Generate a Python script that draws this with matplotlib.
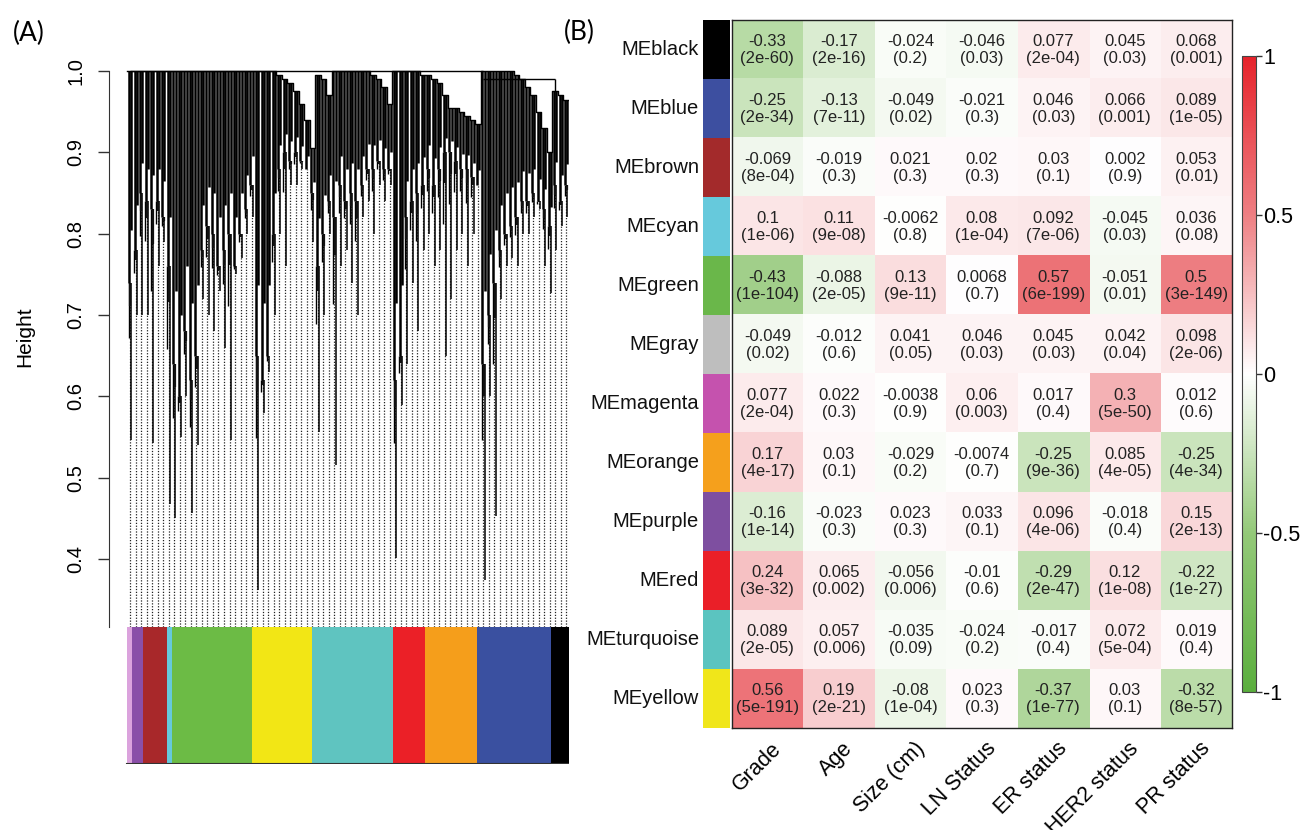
import matplotlib
matplotlib.use("Agg")
import matplotlib.pyplot as plt
import numpy as np
from matplotlib.colors import LinearSegmentedColormap

plt.rcParams['font.family'] = ['Liberation Sans', 'DejaVu Sans']

# ---- panel A: dendrogram, one entry per guide line ----
# top = merge height at the top, canopy = lower edge of the dense black part, tip = lowest branch
dendro_top = [1.0, 1.0, 1.0, 1.0, 1.0, 1.0, 1.0, 1.0,
              1.0, 1.0, 1.0, 1.0, 1.0, 1.0, 1.0, 1.0, 1.0, 1.0, 1.0, 1.0, 1.0, 1.0, 1.0,
              1.0, 1.0, 1.0, 1.0, 0.995, 0.99, 0.985, 0.975, 0.96, 0.94, 0.905,
              0.995, 0.99, 0.97, 1.0, 1.0, 1.0, 1.0, 1.0, 1.0, 1.0, 0.995, 0.99, 0.98, 0.96,
              1.0, 1.0, 1.0, 1.0, 1.0, 0.995,
              0.995, 0.99, 0.985, 0.97, 0.955, 0.955, 0.95, 0.945, 0.94, 0.935,
              1.0, 1.0, 1.0, 1.0, 1.0, 1.0, 0.995, 0.99, 0.98, 0.97, 0.95, 0.93, 0.90,
              0.975, 0.97, 0.965]
dendro_canopy = [0.74, 0.78, 0.85, 0.84, 0.83, 0.84, 0.82, 0.76,
                 0.64, 0.60, 0.68, 0.62, 0.65, 0.78, 0.81, 0.80, 0.76, 0.78, 0.80, 0.76, 0.80, 0.83, 0.86,
                 0.65, 0.62, 0.65, 0.80, 0.88, 0.90, 0.89, 0.90, 0.89, 0.88, 0.85,
                 0.76, 0.80, 0.84, 0.82, 0.86, 0.84, 0.85, 0.84, 0.86, 0.88, 0.88, 0.89, 0.88, 0.88,
                 0.62, 0.65, 0.82, 0.84, 0.85, 0.86,
                 0.88, 0.86, 0.88, 0.90, 0.90, 0.89, 0.88, 0.88, 0.87, 0.86,
                 0.64, 0.70, 0.74, 0.78, 0.80, 0.81, 0.82, 0.84, 0.84, 0.85, 0.84, 0.83, 0.81,
                 0.86, 0.84, 0.86]
dendro_tip = [0.547, 0.70, 0.70, 0.70, 0.543, 0.76, 0.79, 0.468,
              0.45, 0.55, 0.60, 0.457, 0.54, 0.72, 0.70, 0.68, 0.73, 0.66, 0.547, 0.75, 0.77, 0.80, 0.82,
              0.362, 0.58, 0.63, 0.70, 0.80, 0.76, 0.86, 0.86, 0.88, 0.88, 0.79,
              0.556, 0.70, 0.80, 0.516, 0.76, 0.78, 0.74, 0.70, 0.82, 0.84, 0.80, 0.86, 0.84, 0.86,
              0.401, 0.59, 0.64, 0.74, 0.68, 0.78,
              0.80, 0.76, 0.78, 0.65, 0.72, 0.78, 0.80, 0.76, 0.80, 0.86,
              0.374, 0.60, 0.453, 0.72, 0.76, 0.77, 0.76, 0.80, 0.80, 0.82, 0.83, 0.76, 0.727,
              0.78, 0.81, 0.82]
merge_y = [1.0, 0.99]
merge_from = [0, 64]
merge_to = [64, 77]

module_names = ['magenta', 'purple', 'brown', 'cyan', 'green', 'yellow', 'turquoise',
                'red', 'orange', 'blue', 'black']
module_share = [1.0, 2.6, 5.4, 1.1, 18.2, 13.4, 18.4, 7.4, 11.6, 16.8, 4.1]   # % of width
module_bar_col = ['#dba3dd', '#8a4fa8', '#a8282a', '#66c9dc', '#6cbb45', '#f2e615', '#5fc4c0',
                  '#eb2027', '#f59e1b', '#3a50a0', '#000000']

# ---- panel B: module-trait correlations ----
me_rows = ['MEblack', 'MEblue', 'MEbrown', 'MEcyan', 'MEgreen', 'MEgray', 'MEmagenta',
           'MEorange', 'MEpurple', 'MEred', 'MEturquoise', 'MEyellow']
me_cols = ['#000000', '#3d4fa0', '#a32a2b', '#66c9dc', '#6ab74a', '#bebebe', '#c552ae',
           '#f5a01c', '#7e4fa0', '#ea1f28', '#5bc4c0', '#f0e61a']
traits = ['Grade', 'Age', 'Size (cm)', 'LN Status', 'ER status', 'HER2 status', 'PR status']

corr = [[-0.33, -0.17, -0.024, -0.046, 0.077, 0.045, 0.068],
        [-0.25, -0.13, -0.049, -0.021, 0.046, 0.066, 0.089],
        [-0.069, -0.019, 0.021, 0.02, 0.03, 0.002, 0.053],
        [0.1, 0.11, -0.0062, 0.08, 0.092, -0.045, 0.036],
        [-0.43, -0.088, 0.13, 0.0068, 0.57, -0.051, 0.5],
        [-0.049, -0.012, 0.041, 0.046, 0.045, 0.042, 0.098],
        [0.077, 0.022, -0.0038, 0.06, 0.017, 0.3, 0.012],
        [0.17, 0.03, -0.029, -0.0074, -0.25, 0.085, -0.25],
        [-0.16, -0.023, 0.023, 0.033, 0.096, -0.018, 0.15],
        [0.24, 0.065, -0.056, -0.01, -0.29, 0.12, -0.22],
        [0.089, 0.057, -0.035, -0.024, -0.017, 0.072, 0.019],
        [0.56, 0.19, -0.08, 0.023, -0.37, 0.03, -0.32]]
pval = [['2e-60', '2e-16', '0.2', '0.03', '2e-04', '0.03', '0.001'],
        ['2e-34', '7e-11', '0.02', '0.3', '0.03', '0.001', '1e-05'],
        ['8e-04', '0.3', '0.3', '0.3', '0.1', '0.9', '0.01'],
        ['1e-06', '9e-08', '0.8', '1e-04', '7e-06', '0.03', '0.08'],
        ['1e-104', '2e-05', '9e-11', '0.7', '6e-199', '0.01', '3e-149'],
        ['0.02', '0.6', '0.05', '0.03', '0.03', '0.04', '2e-06'],
        ['2e-04', '0.3', '0.9', '0.003', '0.4', '5e-50', '0.6'],
        ['4e-17', '0.1', '0.2', '0.7', '9e-36', '4e-05', '4e-34'],
        ['1e-14', '0.3', '0.3', '0.1', '4e-06', '0.4', '2e-13'],
        ['3e-32', '0.002', '0.006', '0.6', '2e-47', '1e-08', '1e-27'],
        ['2e-05', '0.006', '0.09', '0.2', '0.4', '5e-04', '0.4'],
        ['5e-191', '2e-21', '1e-04', '0.3', '1e-77', '0.1', '8e-57']]

W, H = 1302, 830
fig = plt.figure(figsize=(W / 100, H / 100), dpi=100)

def box(x0, y0, x1, y1):
    # pixel box (top-left origin) -> figure fraction rect
    return [x0 / W, 1 - y1 / H, (x1 - x0) / W, (y1 - y0) / H]

# ---------------- panel A ----------------
ymin = 0.317
n = len(dendro_top)
xl = -(127.4 - 109.3) / (441.6 / n)
ax = fig.add_axes(box(109.3, 69.4, 569, 626.7))
ax.set_xlim(xl, n)
ax.set_ylim(ymin, 1.002)
xs = np.arange(n) + 0.5
top = np.array(dendro_top)
can = np.array(dendro_canopy)
tip = np.array(dendro_tip)
ax.vlines(xs, ymin, can, colors='#222222', linestyles=(0, (1, 1.3)), lw=0.9)
# long branches and shorter streaks hanging below the dense part
ax.vlines(xs + 0.2, tip, can, colors='black', lw=1.1)
ax.vlines(xs - 0.25, can - 0.35 * (can - tip), can, colors='black', lw=1.0)
ax.vlines(xs + 0.05, can - 0.15 * (can - tip), can, colors='#111111', lw=1.6)
# dense mass, drawn as two close strokes per leaf group
ax.vlines(xs - 0.2, can, top, colors='black', lw=1.8)
ax.vlines(xs + 0.22, can + 0.25 * (top - can), top, colors='black', lw=1.8)
ax.step(np.r_[0, xs, n], np.r_[top[0], top, top[-1]], where='mid', color='black', lw=1.0)
for y, a, b in zip(merge_y, merge_from, merge_to):
    ax.hlines(y, a + 0.5, b + 0.5, colors='black', lw=1.0)
ax.vlines(merge_to[-1] + 0.5, top[merge_to[-1]], merge_y[-1], colors='black', lw=1.0)
for s in ['top', 'right', 'bottom']:
    ax.spines[s].set_visible(False)
ax.spines['left'].set_bounds(ymin, 1.0)
ax.spines['left'].set_color('#333333')
ax.set_xticks([])
ax.set_yticks([0.4, 0.5, 0.6, 0.7, 0.8, 0.9, 1.0])
ax.set_yticklabels(['0.4', '0.5', '0.6', '0.7', '0.8', '0.9', '1.0'], rotation=90, va='center')
ax.tick_params(axis='y', length=8, width=1, color='#333333', labelsize=14.5, pad=9)
ax.text(-0.183, 0.52, 'Height', transform=ax.transAxes, rotation=90,
        ha='center', va='center', fontsize=15)

axc = fig.add_axes(box(109.3, 627, 569, 764))
axc.set_xlim(xl, n)
axc.set_ylim(0, 1)
widths = np.array(module_share) / 100 * n
lefts = np.cumsum(widths) - widths
axc.bar(lefts, 1, width=widths, align='edge', color=module_bar_col, linewidth=0)
axc.plot([0, n], [0, 0], color='#333333', lw=1.5)
axc.axis('off')

fig.text(29 / W, 1 - 33 / H, '(A)', fontsize=19, family='Lato', ha='center', va='center')
fig.text(579 / W, 1 - 32 / H, '(B)', fontsize=19, family='Lato', ha='center', va='center')

# ---------------- panel B ----------------
cmap = LinearSegmentedColormap.from_list(
    'gwr', [(0, '#5aae3d'), (0.25, '#94c979'), (0.5, '#ffffff'), (0.75, '#ee7f83'), (1, '#e6232b')])
cw = (1232 - 731.7) / 7
rh = (728.3 - 20.3) / 12
axh = fig.add_axes(box(731.7, 20.3, 1232, 728.3))
im = axh.imshow(np.array(corr), cmap=cmap, vmin=-1, vmax=1, aspect='auto',
                extent=(0, 7, 12, 0), interpolation='nearest')
axh.set_xlim(0, 7)
axh.set_ylim(12, 0)
axh.set_xticks([])
axh.set_yticks([])
for s in axh.spines.values():
    s.set_color('#222222')
    s.set_linewidth(1.0)

for i in range(len(me_rows)):
    for j in range(len(traits)):
        axh.text(j + 0.5, i + 0.5, '%g\n(%s)' % (corr[i][j], pval[i][j]), ha='center', va='center',
                 color='#222222', linespacing=1.2, fontsize=12)
sw0 = (702.7 - 731.7) / cw
sw1 = (730 - 731.7) / cw
axh.bar(np.full(12, sw0), 1, width=sw1 - sw0, bottom=np.arange(12), align='edge',
        color=me_cols, linewidth=0, clip_on=False)
for i, name in enumerate(me_rows):
    axh.text((699 - 731.7) / cw, i + 0.5, name, ha='right', va='center', color='#111111', fontsize=14.5)
for j, t in enumerate(traits):
    axh.text(j + 0.55, 12 + 10 / rh, t, ha='right', va='top', rotation=45,
             rotation_mode='anchor', fontsize=15.5)

axcb = fig.add_axes(box(1242, 56, 1256, 692))
cb = fig.colorbar(im, cax=axcb, ticks=[-1, -0.5, 0, 0.5, 1])
cb.ax.set_yticklabels(['-1', '-0.5', '0', '0.5', '1'])
cb.ax.tick_params(length=4, width=1, labelsize=15.5, pad=1, color='#333333')
cb.outline.set_linewidth(0.8)
cb.outline.set_edgecolor('#444444')

fig.savefig('out.png', dpi=100)
